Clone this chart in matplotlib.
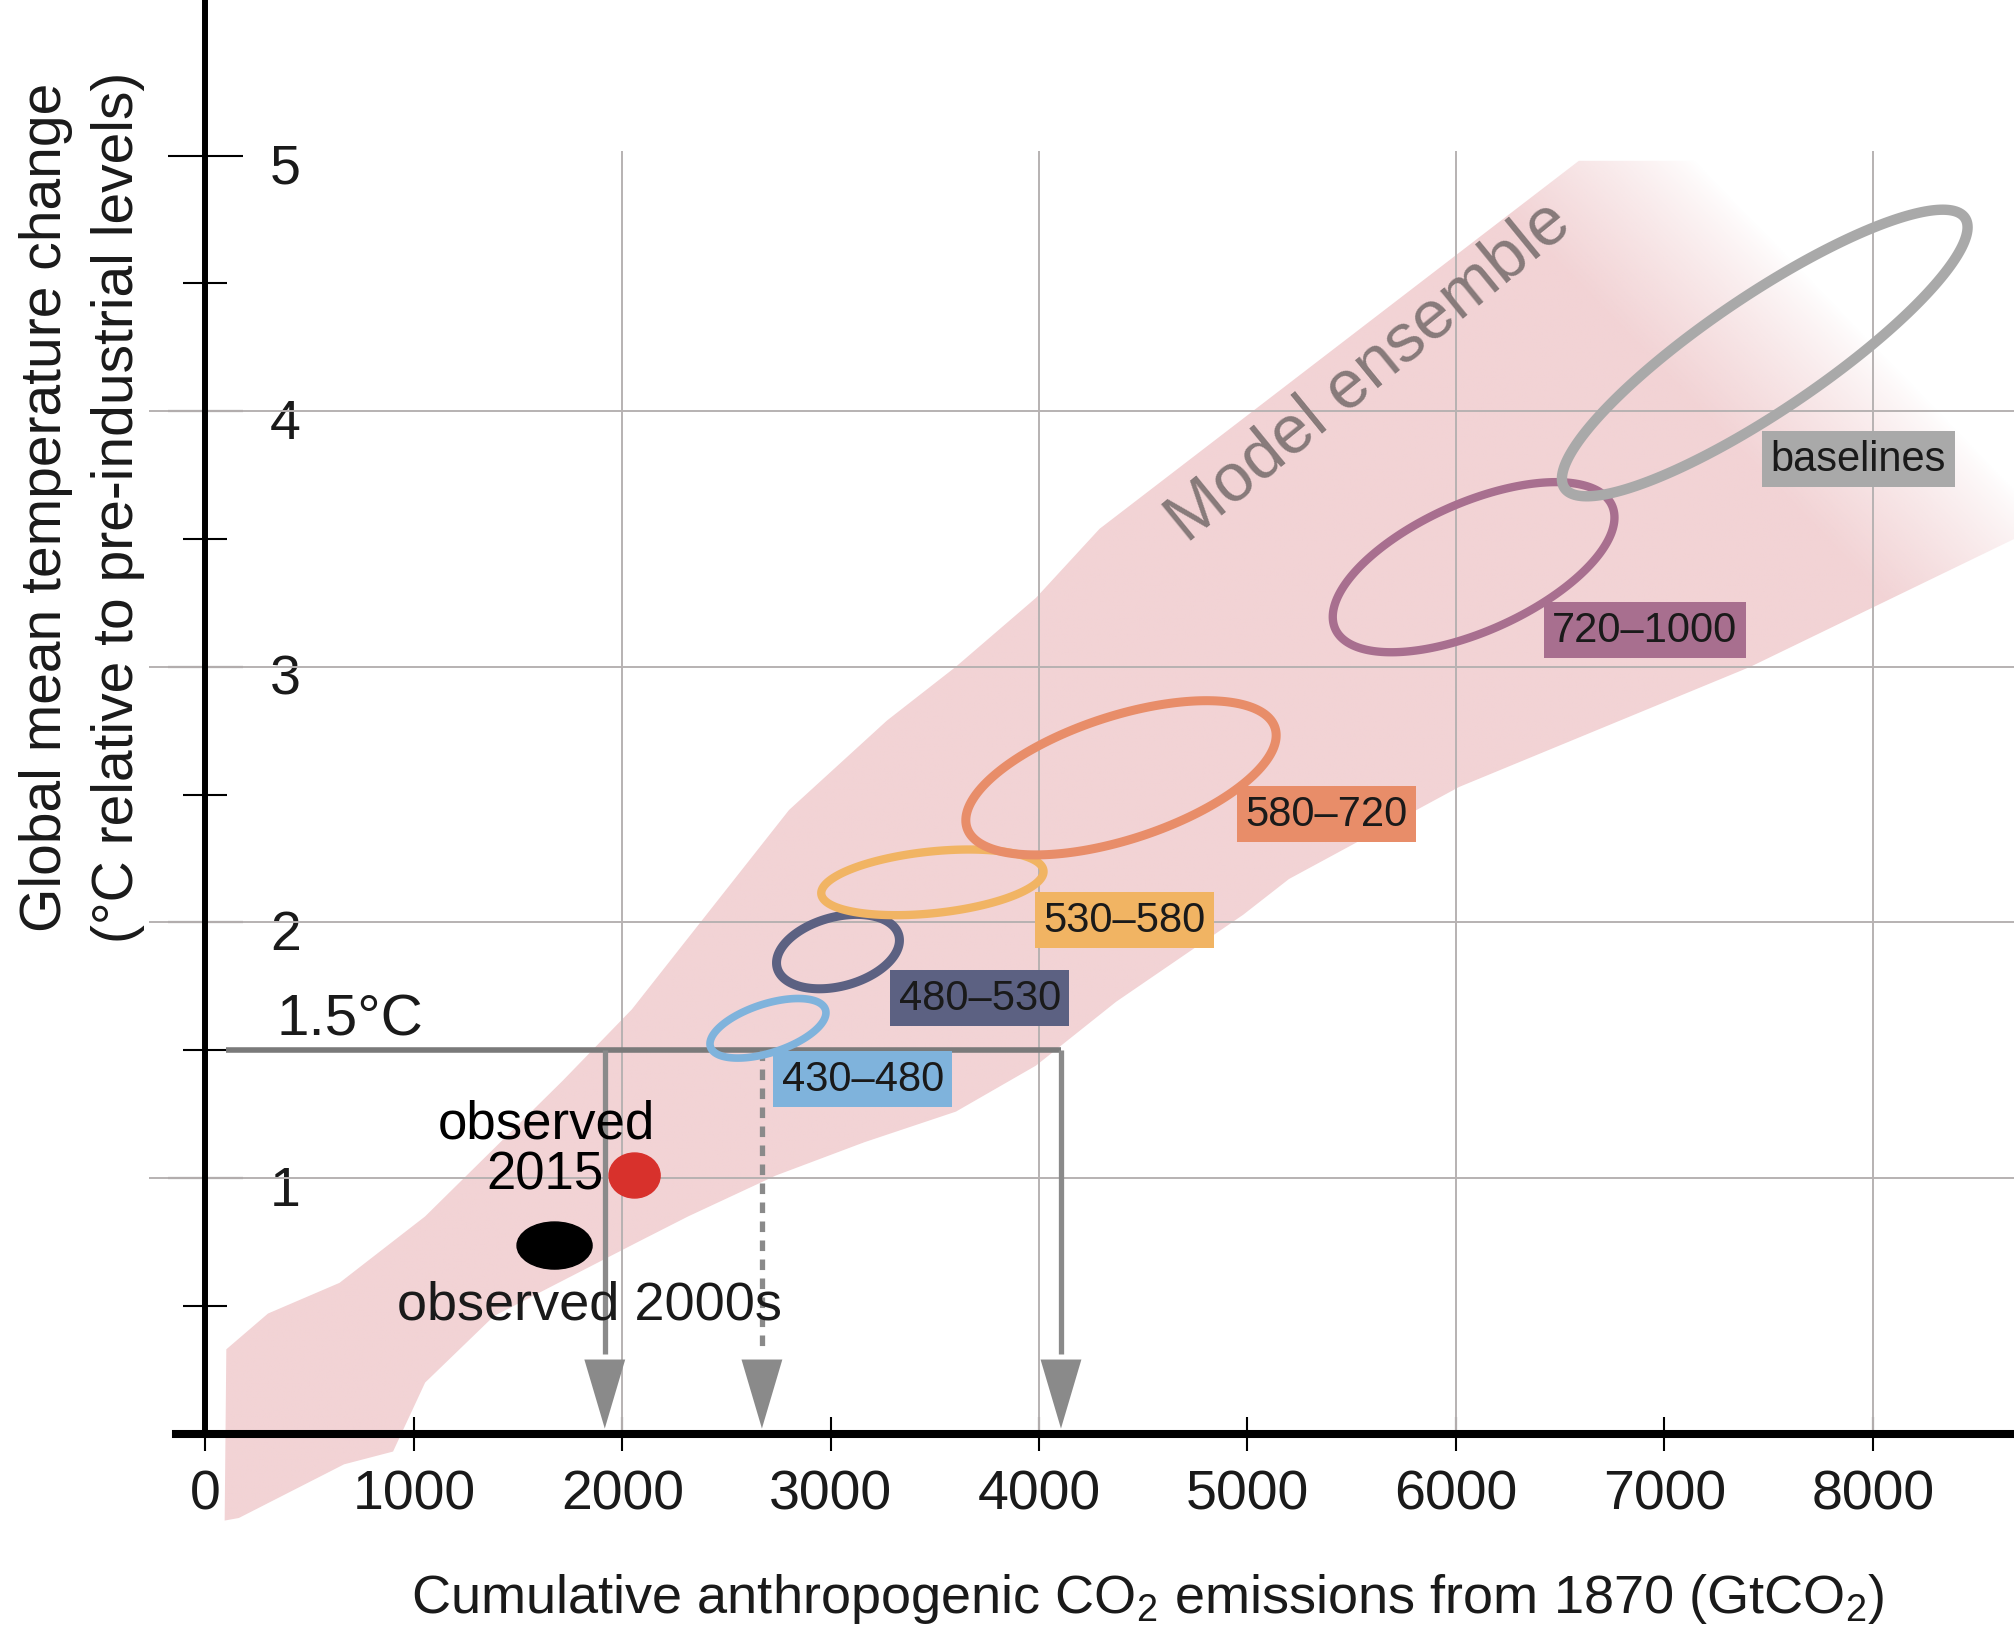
import numpy as np
import matplotlib
matplotlib.use("Agg")
import matplotlib.pyplot as plt
from matplotlib.patches import Polygon, Ellipse
from matplotlib.transforms import ScaledTranslation

plt.rcParams['font.family'] = ['Liberation Sans', 'DejaVu Sans']
plt.rcParams['mathtext.fontset'] = 'custom'
plt.rcParams['mathtext.rm'] = 'Liberation Sans'

# ---- data (GtCO2 on x, deg C on y) ----
x_ticks = [0, 1000, 2000, 3000, 4000, 5000, 6000, 7000, 8000]
y_ticks = [1, 2, 3, 4, 5]
y_minor = [0.5, 1.5, 2.5, 3.5, 4.5]
grid_x = [2000, 4000, 6000, 8000]
grid_y = [1, 2, 3, 4]

# model ensemble band, upper (left) and lower (right) edge
band_upper_x = [92, 100, 300, 643, 1054, 1713, 2046, 2268, 2800, 3270, 3600, 3985, 4290, 5424, 6590, 9200]
band_upper_y = [-0.34, 0.33, 0.47, 0.59, 0.85, 1.38, 1.66, 1.89, 2.44, 2.79, 3.00, 3.27, 3.54, 4.25, 4.98, 4.98]
band_lower_x = [160, 665, 900, 1054, 1384, 2075, 2316, 2737, 3161, 3601, 3985, 4370, 4979, 5199, 6015, 7412, 8678, 9200]
band_lower_y = [-0.33, -0.12, -0.07, 0.20, 0.46, 0.75, 0.85, 1.01, 1.14, 1.26, 1.44, 1.69, 2.03, 2.17, 2.53, 3.00, 3.50, 3.66]

# scenario ellipses (CO2-eq concentration categories, ppm)
scenarios = ['430–480', '480–530', '530–580', '580–720', '720–1000', 'baselines']
ell_x = [2699, 3035, 3488, 4393, 6085, 7482]
ell_y = [1.586, 1.886, 2.157, 2.566, 3.390, 4.228]
ell_major = [290, 302, 536, 777, 727, 1159]   # semi axes, in GtCO2 screen units
ell_minor = [117, 166, 148, 296, 308, 277]
ell_tilt = [18, 15, 6, 18, 24, 34]
label_x = [2764, 3326, 4021, 4990, 6462, 7511]
label_y = [1.388, 1.705, 2.010, 2.424, 3.144, 3.813]

# observations
obs_x = [1675, 2059]
obs_y = [0.736, 1.010]

# remaining budget arrows for 1.5 degC
budget_x = [1916, 2670, 4105]
budget_dashed = [False, True, False]
target_temp = 1.5

ell_colors = ['#7fb3dc', '#5c6182', '#f1b463', '#e88d69', '#a86f8f', '#a9a9a9']
ell_widths = [5.5, 6.5, 6.0, 6.5, 6.0, 7.5]
pink = np.array([242, 211, 213]) / 255.0

x0, x1 = -986, 8678
y0, y1 = -0.776, 5.613

fig = plt.figure(figsize=(20.14, 16.33), dpi=100)
ax = fig.add_axes([0, 0, 1, 1])
ax.set_xlim(x0, x1)
ax.set_ylim(y0, y1)

# pixel scale of the axes
p0 = ax.transData.transform((0, 0))
sx = ax.transData.transform((1, 0))[0] - p0[0]
sy = ax.transData.transform((0, 1))[1] - p0[1]

# band with a soft fade at its upper right end
verts = list(zip(band_upper_x, band_upper_y)) + list(zip(band_lower_x, band_lower_y))[::-1]
band = Polygon(verts, closed=True, facecolor='none', edgecolor='none')
ax.add_patch(band)
gx = np.linspace(x0, x1, 1000)
gy = np.linspace(y0, y1, 800)
GX, GY = np.meshgrid(gx, gy)
PX, PY = GX * sx, GY * sy
f1 = np.array([7165 * sx, 4.97 * sy])
f2 = np.array([8678 * sx, 3.70 * sy])
d = f2 - f1
n = np.array([d[1], -d[0]]) / np.hypot(*d)
if n[1] < 0:
    n = -n
dist = (PX - f1[0]) * n[0] + (PY - f1[1]) * n[1]
rgba = np.zeros(GX.shape + (4,))
rgba[..., :3] = pink
rgba[..., 3] = np.clip(-dist / 170.0, 0, 1) ** 0.8
im = ax.imshow(rgba, extent=(x0, x1, y0, y1), origin='lower', aspect='auto',
               interpolation='bilinear', zorder=1)
im.set_clip_path(band)
ax.set_xlim(x0, x1)
ax.set_ylim(y0, y1)

# grid
ax.hlines(grid_y, -270, x1, color='#b7b2b2', lw=1.4, zorder=2)
ax.vlines(grid_x, 0, 5.02, color='#b7b2b2', lw=1.4, zorder=2)

# 1.5 degC line and arrows
ax.hlines(target_temp, 100, max(budget_x), color='#7a7a7a', lw=4.0, zorder=2.6)
head_top, head_tip, head_hw = 0.29, 0.02, 98
for bx, dashed in zip(budget_x, budget_dashed):
    ax.plot([bx, bx], [target_temp, head_top + 0.02], color='#8a8a8a', lw=3.8,
            ls=(0, (2.0, 1.6)) if dashed else '-', zorder=2.6, solid_capstyle='butt')
    ax.fill([bx - head_hw, bx + head_hw, bx], [head_top, head_top, head_tip],
            color='#8a8a8a', lw=0, zorder=2.7)

# scenario ellipses
t = np.linspace(0, 2 * np.pi, 240)
for cx, cy, a, b, tilt, col, lw in zip(ell_x, ell_y, ell_major, ell_minor, ell_tilt, ell_colors, ell_widths):
    th = np.radians(tilt)
    ex = cx + a * np.cos(t) * np.cos(th) - b * np.sin(t) * np.sin(th)
    ey = cy + (a * np.cos(t) * np.sin(th) + b * np.sin(t) * np.cos(th)) * sx / sy
    ax.add_patch(Polygon(np.column_stack([ex, ey]), closed=True, fill=False,
                         ec=col, lw=lw, zorder=3))

for name, lx, ly, col in zip(scenarios, label_x, label_y, ell_colors):
    ax.text(lx, ly, name, ha='left', va='center', fontsize=30, color='#1a1a1a', zorder=5,
            bbox=dict(boxstyle='square,pad=0.2', fc=col, ec='none'))

# observations
ax.add_patch(Ellipse((obs_x[0], obs_y[0]), 360, 0.184, color='black', zorder=4))
ax.add_patch(Ellipse((obs_x[1], obs_y[1]), 245, 0.176, color='#d8312c', zorder=4))
ax.text(1634, 1.215, 'observed', ha='center', va='center', fontsize=38, color='black', zorder=5)
ax.text(1910, 1.012, '2015', ha='right', va='center', fontsize=38, color='black', zorder=5)
ax.text(1845, 0.507, 'observed 2000s', ha='center', va='center', fontsize=39, color='#1a1a1a', zorder=5)
ax.text(340, 1.56, '1.5°C', ha='left', va='baseline', fontsize=42, color='#1a1a1a', zorder=5)
ax.text(5580, 4.16, 'Model ensemble', rotation=39.2, rotation_mode='anchor', ha='center',
        va='center', fontsize=49, color='#877a7a', zorder=5)

# axes
for s in ['top', 'right']:
    ax.spines[s].set_visible(False)
ax.spines['left'].set_position(('data', 0))
ax.spines['bottom'].set_position(('data', 0))
ax.spines['left'].set_bounds(0, y1)
ax.spines['bottom'].set_bounds(-142, x1)
ax.spines['left'].set_linewidth(4.3)
ax.spines['bottom'].set_linewidth(5.8)
ax.spines['left'].set_zorder(6)
ax.spines['bottom'].set_zorder(6)

ax.set_xticks(x_ticks)
ax.set_xticklabels([str(v) for v in x_ticks], fontsize=40, color='#1a1a1a')
ax.tick_params(axis='x', direction='inout', length=25, width=1.5, pad=12.5)
ax.set_yticks(y_ticks)
ax.set_yticklabels([str(v) for v in y_ticks], fontsize=40, color='#1a1a1a', ha='left')
ax.set_yticks(y_minor, minor=True)
ax.tick_params(axis='y', which='major', direction='inout', length=54, width=1.5, pad=-73.4)
ax.tick_params(axis='y', which='minor', direction='inout', length=31.7, width=1.5)
shift = ScaledTranslation(0, -0.07, fig.dpi_scale_trans)
for tk in ax.yaxis.get_major_ticks():
    tk.label1.set_transform(tk.label1.get_transform() + shift)

ax.set_xlabel('Cumulative anthropogenic CO$_\\mathregular{2}$ emissions from 1870 (GtCO$_\\mathregular{2}$)',
              fontsize=39, color='#1a1a1a', va='baseline')
ax.xaxis.set_label_coords(0.570, 0.0122)
ax.set_ylabel('Global mean temperature change\n(°C relative to pre-industrial levels)',
              fontsize=41, color='#1a1a1a', linespacing=1.43, va='center', ha='center')
ax.yaxis.set_label_coords(0.0405, 0.6895)

fig.savefig('out.png', dpi=100)
